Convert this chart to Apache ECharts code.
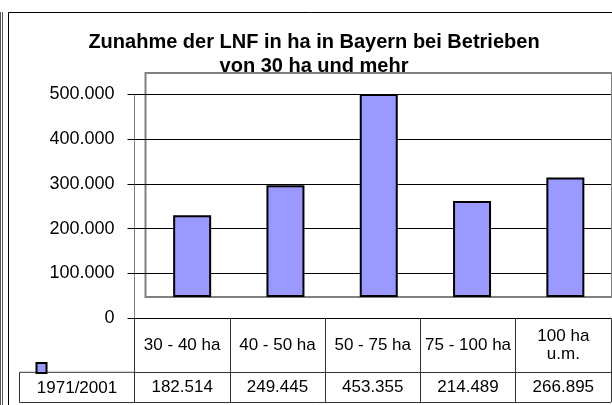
<!DOCTYPE html>
<html>
<head>
<meta charset="utf-8">
<script src="https://cdn.jsdelivr.net/npm/echarts@6/dist/echarts.min.js"></script>
<style>
html,body{margin:0;padding:0;background:#fff;}
#c{width:612px;height:405px;}
</style>
</head>
<body>
<div id="c"></div>
<script>
var titleLines = ['Zunahme der LNF in ha in Bayern bei Betrieben', 'von 30 ha und mehr'];
var categories = ['30 - 40 ha', '40 - 50 ha', '50 - 75 ha', '75 - 100 ha', '100 ha\nu.m.'];
var seriesName = '1971/2001';
var values = [182514, 249445, 453355, 214489, 266895];
var yMin = 0, yMax = 500000, yStep = 100000;

var FONT = '"Liberation Sans", Arial, sans-serif';
function fmt(v) { return String(v).replace(/\B(?=(\d{3})+(?!\d))/g, '.'); }

var chart = echarts.init(document.getElementById('c'), null, {renderer: 'canvas'});
chart.setOption({
  animation: false,
  backgroundColor: '#fff',
  textStyle: {fontFamily: FONT},
  title: {
    text: titleLines.join('\n'),
    left: 314, top: 30, textAlign: 'center', padding: 0,
    textStyle: {fontFamily: FONT, fontSize: 20, fontWeight: 'bold', color: '#000', lineHeight: 24.5}
  },
  legend: {
    data: [seriesName], left: 35.5, top: 362, padding: 0,
    icon: 'rect', itemWidth: 10, itemHeight: 10,
    formatter: function () { return ''; },
    itemStyle: {color: '#9999ff', borderColor: '#000', borderWidth: 2}
  },
  grid: [
    {left: 134.5, right: 1, top: 94.3, bottom: 86.7},
    {left: 145.5, width: 476, top: 73, height: 224, show: true, borderColor: '#808080', borderWidth: 2, backgroundColor: 'transparent'}
  ],
  xAxis: [
    {
      type: 'category', gridIndex: 0, data: categories, position: 'bottom',
      axisLine: {show: true, lineStyle: {color: '#000', width: 1}},
      axisTick: {show: true, length: 84, lineStyle: {color: '#333', width: 1}},
      axisLabel: {fontSize: 17, color: '#000', margin: 27, verticalAlign: 'middle', lineHeight: 17.5, fontFamily: FONT, interval: 0}
    },
    {
      type: 'category', gridIndex: 1, data: categories, show: false
    },
    {
      type: 'category', gridIndex: 0, data: values.map(fmt), position: 'bottom', offset: 54,
      axisLine: {show: true, lineStyle: {color: '#333', width: 1}},
      axisTick: {show: false},
      axisLabel: {fontSize: 17, color: '#000', margin: 15.5, verticalAlign: 'middle', fontFamily: FONT, interval: 0}
    }
  ],
  yAxis: [
    {
      type: 'value', gridIndex: 0, min: yMin, max: yMax, interval: yStep,
      axisLine: {show: true, lineStyle: {color: '#808080', width: 1}},
      axisTick: {show: true, length: 7, lineStyle: {color: '#000', width: 1}},
      axisLabel: {fontSize: 18, color: '#000', margin: 20, formatter: fmt, fontFamily: FONT},
      splitLine: {show: true, lineStyle: {color: '#000', width: 1}}
    },
    {
      type: 'value', gridIndex: 1, min: yMin, max: yMax, interval: yStep, show: false,
      splitLine: {show: false}
    }
  ],
  series: [{
    name: seriesName, type: 'bar', xAxisIndex: 1, yAxisIndex: 1, data: values,
    barWidth: 38,
    itemStyle: {color: '#9999ff', borderColor: '#000', borderWidth: 2}
  }],
  graphic: [
    {type: 'line', shape: {x1: 0.5, y1: 12, x2: 0.5, y2: 405}, style: {stroke: '#555', lineWidth: 1}},
    {type: 'line', shape: {x1: 2.5, y1: 12, x2: 2.5, y2: 405}, style: {stroke: '#555', lineWidth: 1}},
    {type: 'line', shape: {x1: 8.5, y1: 12.5, x2: 8.5, y2: 405}, style: {stroke: '#000', lineWidth: 1}},
    {type: 'line', shape: {x1: 8.5, y1: 12.5, x2: 612, y2: 12.5}, style: {stroke: '#000', lineWidth: 1}},
    {type: 'line', shape: {x1: 19.5, y1: 372.3, x2: 134.5, y2: 372.3}, style: {stroke: '#333', lineWidth: 1}},
    {type: 'line', shape: {x1: 19.5, y1: 372.3, x2: 19.5, y2: 402.5}, style: {stroke: '#333', lineWidth: 1}},
    {type: 'line', shape: {x1: 19.5, y1: 402.5, x2: 611, y2: 402.5}, style: {stroke: '#333', lineWidth: 1}},
    {type: 'text', x: 77, y: 388, style: {text: seriesName, fontSize: 17, fontFamily: FONT, fill: '#000', textAlign: 'center', textVerticalAlign: 'middle'}}
  ]
});
</script>
</body>
</html>
